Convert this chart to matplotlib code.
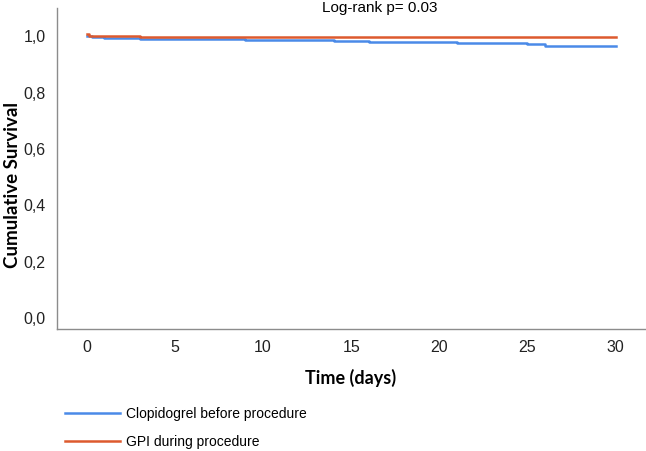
import numpy as np
import matplotlib.pyplot as plt

# Kaplan-Meier step data
clop_time = [0, 0.3, 1, 2, 3, 5, 7, 9, 11, 13, 14, 16, 17, 19, 21, 23, 25, 26, 30]
clop_surv = [1.0, 0.996, 0.994, 0.992, 0.991, 0.990, 0.989, 0.988, 0.987, 0.985, 0.983, 0.981,
             0.979, 0.978, 0.977, 0.976, 0.973, 0.966, 0.966]
gpi_time = [0, 0.1, 3, 30]
gpi_surv = [1.008, 0.999, 0.998, 0.998]

x_ticks = [0, 5, 10, 15, 20, 25, 30]
y_ticks = [0.0, 0.2, 0.4, 0.6, 0.8, 1.0]
y_ticklabels = ['0,0', '0,2', '0,4', '0,6', '0,8', '1,0']

blue = '#4a8ae8'
red = '#dd5a2e'

plt.rcParams['font.family'] = ['Liberation Sans', 'DejaVu Sans']

fig = plt.figure(figsize=(6.46, 4.51), dpi=100)
ax = fig.add_axes([0.088, 0.2705, 0.910, 0.7117])

ax.step(clop_time, clop_surv, where='post', color=blue, lw=1.8, label='Clopidogrel before procedure')
ax.step(gpi_time, gpi_surv, where='post', color=red, lw=1.8, label='GPI during procedure')

ax.set_xlim(-1.7, 31.65)
ax.set_ylim(-0.039, 1.10)
ax.set_xticks(x_ticks)
ax.set_yticks(y_ticks)
ax.set_yticklabels(y_ticklabels)
ax.tick_params(axis='both', length=0, labelsize=11.5, colors='#222222', pad=8)

for side in ['top', 'right']:
    ax.spines[side].set_visible(False)
for side in ['left', 'bottom']:
    ax.spines[side].set_color('#8c8c8c')
    ax.spines[side].set_linewidth(1.0)

fig.text(0.542, 0.162, 'Time (days)', ha='center', va='center', fontsize=13,
         fontweight='bold', family=['Lato', 'DejaVu Sans'])
fig.text(0.019, 0.59, 'Cumulative Survival', ha='center', va='center', rotation=90,
         fontsize=13.5, fontweight='bold', family=['Lato', 'DejaVu Sans'])
fig.text(0.588, 0.982, 'Log-rank p= 0.03', ha='center', va='center', fontsize=11)

handles, labels = ax.get_legend_handles_labels()
fig.legend(handles, labels, loc='upper left', bbox_to_anchor=(0.100, 0.098),
           frameon=False, handlelength=4.0, handletextpad=0.45,
           labelspacing=1.0, borderpad=0, borderaxespad=0,
           prop={'family': ['Liberation Sans', 'DejaVu Sans'], 'size': 10})

fig.savefig('out.png', dpi=100)
